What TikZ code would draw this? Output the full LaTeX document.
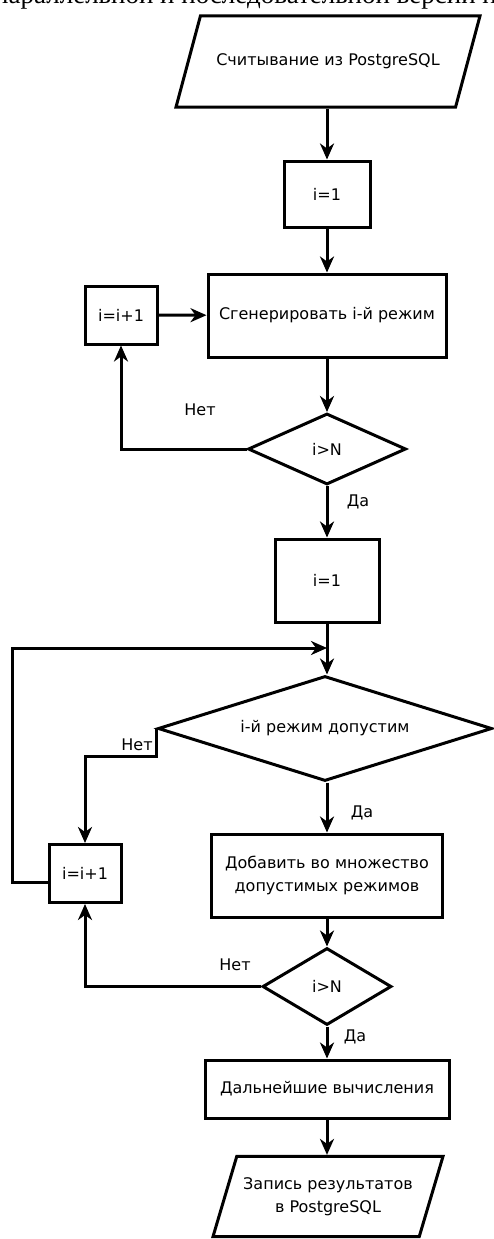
\documentclass[tikz,border=0pt]{standalone}
\usepackage{fontspec}
\setmainfont{DejaVu Sans}
\newfontfamily\pageserif{Liberation Serif}
\usetikzlibrary{arrows.meta,shapes.geometric}
\tikzset{>={Stealth[length=16pt,width=14pt,inset=5pt]}}
\tikzset{
  block/.style={draw, line width=3pt, inner sep=0pt, align=center,
    font=\fontsize{16}{23}\selectfont},
  procbox/.style={block, rectangle},
  decide/.style={block, diamond},
  iobox/.style={block, trapezium, trapezium stretches body=true},
  link/.style={line width=3pt, ->},
  answer/.style={font=\fontsize{16}{19}\selectfont}
}

\begin{document}
\begin{tikzpicture}[x=1pt,y=-1pt]
				\useasboundingbox (0,0) rectangle (494,1239);
				% cut-off line of the page text
				\begin{scope}
				\clip (0,0) rectangle (494,1239);
				\node[anchor=base west,inner sep=0pt,font=\pageserif\fontsize{27}{30}\selectfont] (pagetext) at (-6,4) {параллельной и последовательной версий п};
				\end{scope}
				
				\node[iobox,trapezium left angle=75,trapezium right angle=105,inner ysep=38pt,minimum width=304pt] (read) at (328,61.5) {Считывание из PostgreSQL};
				\node[procbox,minimum width=86pt,minimum height=66pt] (init1) at (327,194) {i=1};
				\node[procbox,minimum width=238pt,minimum height=83pt] (gen) at (327,315.5) {Сгенерировать i-й режим};
				\node[procbox,minimum width=72pt,minimum height=58pt] (inc1) at (121,315) {i=i+1};
				\node[decide,aspect=2.2,minimum width=158pt,minimum height=71pt] (dec1) at (327,449) {i>N};
				\node[procbox,minimum width=104pt,minimum height=83pt] (init2) at (327,580.5) {i=1};
				\node[decide,aspect=3.2,minimum width=334pt,minimum height=105pt] (dec2) at (325,728.5) {i-й режим допустим};
				\node[procbox,minimum width=72pt,minimum height=58pt] (inc2) at (85,873.5) {i=i+1};
				\node[procbox,minimum width=231pt,minimum height=83pt] (add) at (327,875.5) {Добавить во множество\\допустимых режимов};
				\node[decide,aspect=1.7,minimum width=129pt,minimum height=77pt] (dec3) at (327,986.5) {i>N};
				\node[procbox,minimum width=244pt,minimum height=58pt] (calc) at (327,1089) {Дальнейшие вычисления};
				\node[iobox,trapezium left angle=73.5,trapezium right angle=106.5,inner ysep=21pt,minimum width=230pt] (write) at (328,1196.5) {Запись результатов\\в PostgreSQL};
				
				\coordinate (loopL) at (12,648);
				\coordinate (join) at (327,648);
				
				\draw[link] (read.south -| init1) -- (init1);
				\draw[link] (init1) -- (gen);
				\draw[link] (inc1) -- (gen);
				\draw[link] (gen) -- (dec1);
				\draw[link] (dec1.west) -| (inc1.south);
				\draw[link] (dec1) -- (init2);
				\draw[link] (init2) -- (dec2.north -| init2);
				\draw[link] ([yshift=-9pt]inc2.west) -| (loopL) -- (join);
				\draw[link] (dec2.west) -- ++(0,28) -| (inc2.north);
				\draw[link] (dec2.south -| add) -- (add);
				\draw[link] (add) -- (dec3);
				\draw[link] (dec3.west) -| (inc2.south);
				\draw[link] (dec3) -- (calc);
				\draw[link] (calc) -- (write.north -| calc);
				
				\node[answer] (no1) at (200,410) {Нет};
				\node[answer] (yes1) at (358,502) {Да};
				\node[answer] (no2) at (137,745) {Нет};
				\node[answer] (yes2) at (362,813) {Да};
				\node[answer] (no3) at (235,965) {Нет};
				\node[answer] (yes3) at (355,1037) {Да};
\end{tikzpicture}
\end{document}
